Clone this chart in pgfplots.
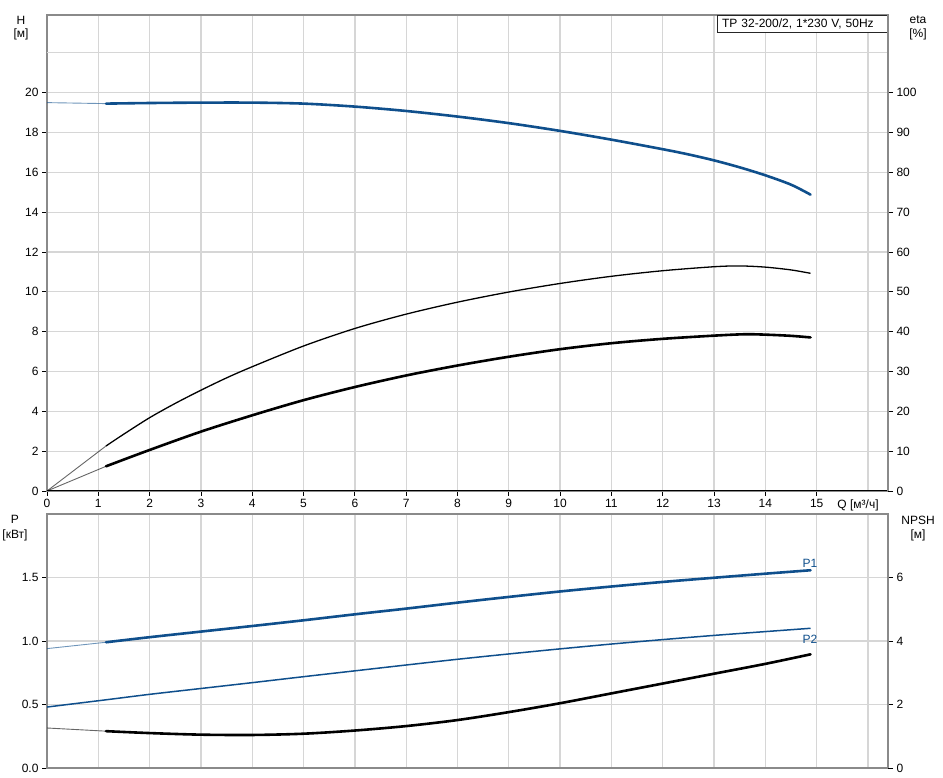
\documentclass[border=0pt]{standalone}
\usepackage{fontspec}
\setmainfont{Liberation Sans}
\usepackage{pgfplots}
\pgfplotsset{compat=1.18}

\definecolor{curveblue}{HTML}{0F4F8C}
\definecolor{gridgray}{HTML}{D6D6D6}
\definecolor{framegray}{HTML}{8A8A8A}

\newcommand{\lbl}{\fontsize{12}{14}\selectfont}

\pgfplotsset{
  panel/.style={
    scale only axis,
    width=841pt,
    xmin=0, xmax=16.39,
    /pgf/number format/assume math mode=true,
    every tick label/.append style={font=\lbl, text=black},
    tick align=outside,
    major tick length=5pt,
    tick style={black, line width=0.8pt},
    axis line style={framegray, line width=2pt},
    major grid style={gridgray, line width=1.3pt},
  },
  thick curve/.style={line width=2.6pt, line join=round, line cap=round, smooth, tension=0.5},
  start curve/.style={line width=0.9pt, opacity=0.6},
}

\begin{document}
\begin{tikzpicture}
\path[use as bounding box] (0pt,0pt) rectangle (943pt,778pt);

% ---------------- upper panel: H and eta ----------------
\begin{axis}[panel, at={(47pt,287pt)}, anchor=south west, height=476pt,
  xtick pos=left, ytick pos=left,
  ymin=0, ymax=23.9,
  xtick={0,...,15}, ytick={0,2,...,20},
  extra x ticks={16}, extra x tick labels={},
  extra y ticks={22}, extra y tick labels={},
  extra tick style={major tick length=0pt, grid=major},
  grid=major]
  % H
  \addplot[curveblue, start curve] coordinates {(0,19.5) (1.15,19.45)};
  \addplot[curveblue, thick curve] coordinates {
    (1.15,19.45) (2,19.48) (3,19.5) (4,19.5) (5,19.45) (6,19.3) (7,19.08)
    (8,18.8) (9,18.47) (10,18.08) (11,17.64) (12,17.16) (12.5,16.9)
    (13,16.6) (13.5,16.25) (14,15.85) (14.5,15.38) (14.88,14.88)};
  \draw[black, line width=1.3pt] (rel axis cs:0,0) -- ([xshift=5pt]rel axis cs:1,0);
  \node[draw=black!85, fill=white, line width=0.8pt, anchor=north east,
        text width=161pt, inner xsep=4.5pt, inner ysep=3.5pt, font=\lbl,
        align=left] at (rel axis cs:1,1) {TP 32-200/2, 1*230 V, 50Hz};
\end{axis}

\begin{axis}[panel, at={(47pt,287pt)}, anchor=south west, height=476pt,
  ymin=0, ymax=119.5,
  axis x line=none, axis y line*=right, ytick pos=right,
  ytick={0,10,...,100}]
  % eta pump
  \addplot[black, start curve] coordinates {(0,0) (1.15,11.3)};
  \addplot[black, line width=1.3pt, smooth, tension=0.5] coordinates {
    (1.15,11.3) (1.5,14.3) (2,18.4) (2.5,22.0) (3,25.3) (3.5,28.4) (4,31.2)
    (5,36.4) (6,40.8) (7,44.4) (8,47.4) (9,49.95) (10,52.1) (11,53.9)
    (12,55.3) (13,56.3) (13.5,56.5) (14,56.2) (14.5,55.5) (14.88,54.65)};
  % eta total
  \addplot[black, start curve] coordinates {(0,0) (1.15,6.2)};
  \addplot[black, thick curve] coordinates {
    (1.15,6.2) (2,10.3) (3,14.9) (4,19.0) (5,22.8) (6,26.1) (7,29.0)
    (8,31.5) (9,33.7) (10,35.6) (11,37.1) (12,38.2) (13,39.0) (13.6,39.35)
    (14,39.25) (14.5,38.95) (14.88,38.55)};
\end{axis}

% ---------------- lower panel: P and NPSH ----------------
\begin{axis}[panel, at={(47pt,10pt)}, anchor=south west, height=254pt,
  xtick pos=left, ytick pos=left,
  ymin=0, ymax=2.0,
  xtick={0,...,16}, xticklabels={}, x tick style={draw=none},
  ytick={0,0.5,1,1.5}, yticklabels={0.0,0.5,1.0,1.5},
  grid=major]
  % P1
  \addplot[curveblue, start curve] coordinates {(0,0.94) (1.15,0.99)};
  \addplot[curveblue, thick curve] coordinates {
    (1.15,0.99) (2,1.03) (3,1.074) (4,1.118) (5,1.163) (6,1.21) (7,1.255)
    (8,1.302) (9,1.347) (10,1.39) (11,1.429) (12,1.465) (13,1.498)
    (14,1.53) (14.88,1.557)};
  % P2
  \addplot[curveblue, line width=1.5pt, smooth, tension=0.5] coordinates {
    (0,0.48) (1.15,0.537) (2,0.58) (3,0.626) (4,0.672) (5,0.719) (6,0.765)
    (7,0.811) (8,0.856) (9,0.898) (10,0.938) (11,0.976) (12,1.011)
    (13,1.044) (14,1.074) (14.88,1.10)};
\end{axis}

\begin{axis}[panel, at={(47pt,10pt)}, anchor=south west, height=254pt,
  ymin=0, ymax=8,
  axis x line=none, axis y line*=right, ytick pos=right,
  ytick={0,2,4,6}]
  % NPSH
  \addplot[black, start curve] coordinates {(0,1.26) (1.15,1.16)};
  \addplot[black, thick curve] coordinates {
    (1.15,1.16) (2,1.10) (3,1.05) (4,1.04) (5,1.08) (6,1.18) (7,1.32)
    (8,1.51) (9,1.76) (10,2.04) (11,2.35) (12,2.66) (13,2.97) (14,3.28)
    (14.88,3.58)};
\end{axis}

% ---------------- axis titles ----------------
\node[font=\lbl] at (21pt,758pt) {H};
\node[font=\lbl] at (21pt,744pt) {[м]};
\node[font=\lbl] at (918pt,758pt) {eta};
\node[font=\lbl] at (918pt,744pt) {[\%]};
\node[font=\lbl] at (858pt,273pt) {Q [м³/ч]};
\node[font=\lbl] at (15pt,259pt) {P};
\node[font=\lbl] at (15pt,243pt) {[кВт]};
\node[font=\lbl] at (918pt,258pt) {NPSH};
\node[font=\lbl] at (918pt,243pt) {[м]};
\node[font=\lbl, text=curveblue] at (810pt,215pt) {P1};
\node[font=\lbl, text=curveblue] at (810pt,139pt) {P2};
\end{tikzpicture}
\end{document}
